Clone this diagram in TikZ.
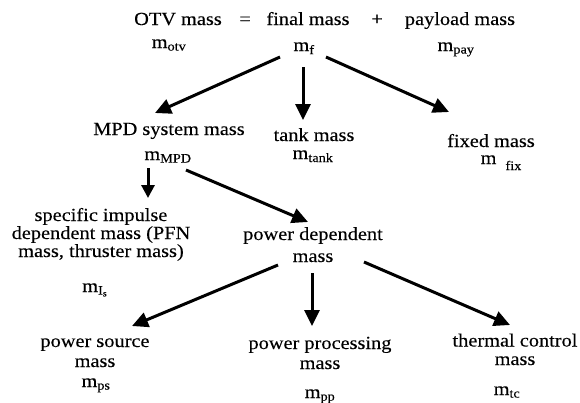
\documentclass[tikz,border=0pt]{standalone}
\usepackage{fontspec}
\setmainfont{Liberation Serif}[FakeStretch=1.1,FakeBold=0.2]
\usetikzlibrary{arrows.meta,calc}
\begin{document}
\begin{tikzpicture}[x=1pt,y=-1pt,
  txt/.style={inner sep=0pt, anchor=base, align=center,
    font=\fontsize{18.5}{19.5}\selectfont},
  arr/.style={line width=3pt, -{Triangle[length=16pt,width=15pt]}},
  arrs/.style={line width=3pt, -{Triangle[length=13pt,width=13pt]}}]
\useasboundingbox (0,0) rectangle (580,402);
% top line
\node[txt] (otv) at (178,25) {OTV mass};
\node[txt] (eq) at (245,25) {=};
\node[txt] (fin) at (308,25) {final mass};
\node[txt] (plus) at (377,25) {+};
\node[txt] (pay) at (460,25) {payload mass};
\node[txt] (motv) at (169,48) {m\textsubscript{otv}};
\node[txt] (mf) at (304,51) {m\textsubscript{f}};
\node[txt] (mpay) at (456,51) {m\textsubscript{pay}};
% second level
\node[txt] (mpd) at (169,135) {MPD system mass};
\node[txt] (tank) at (314,141) {tank mass};
\node[txt] (fixed) at (491,147) {fixed mass};
\node[txt] (mmpd) at (168,160) {m\textsubscript{MPD}};
\node[txt] (mtank) at (313,159) {m\textsubscript{tank}};
\node[txt] (mfix) at (501,164) {m\hspace{9pt}\raisebox{-6pt}{\fontsize{13}{13}\selectfont fix}};
% third level (base = last line)
\node[txt] (spec) at (101,257) {specific impulse\\[-1.5pt]dependent mass (PFN\\[-1.5pt]mass, thruster mass)};
\node[txt] (mis) at (95,292) {m\textsubscript{I\textsubscript{s}}};
\node[txt] (pdep) at (313,262) {power dependent\\[2.5pt]mass};
% bottom level
\node[txt] (psrc) at (95,367) {power source\\[0.5pt]mass};
\node[txt] (mps) at (96,387) {m\textsubscript{ps}};
\node[txt] (pproc) at (320,369) {power processing\\[0.5pt]mass};
\node[txt] (mpp) at (320,398) {m\textsubscript{pp}};
\node[txt] (therm) at (515,365) {thermal control\\[-1pt]mass};
\node[txt] (mtc) at (507,395) {m\textsubscript{tc}};
% arrows
\draw[arr] ($(mf.base)+(-24,6)$) -- ($(mpd.base)+(-14,-22)$);
\draw[arr] ($(mf.base)+(-1,16)$) -- ($(tank.base)+(-11,-21)$);
\draw[arr] ($(mf.base)+(22,6)$) -- ($(fixed.base)+(-42,-35)$);
\draw[arrs] ($(mmpd.base)+(-20,8)$) -- ($(mmpd.base)+(-20,38)$);
\draw[arr] ($(mmpd.base)+(18,10)$) -- ($(pdep.base)+(-5,-40)$);
\draw[arr] ($(pdep.base)+(-35,3)$) -- ($(psrc.base)+(37,-41)$);
\draw[arr] ($(pdep.base)+(-1,11)$) -- ($(pproc.base)+(-8,-43)$);
\draw[arr] ($(pdep.base)+(51,0)$) -- ($(therm.base)+(-5,-40)$);
\end{tikzpicture}
\end{document}
